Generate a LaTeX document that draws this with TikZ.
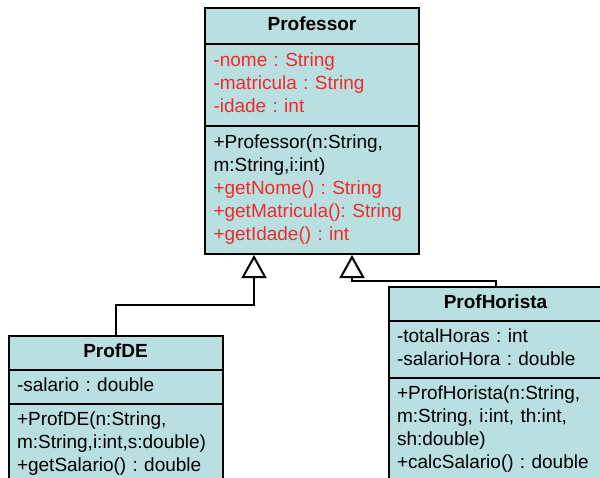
\documentclass[tikz,border=0pt]{standalone}
\usepackage{fontspec}
\setmainfont{Liberation Sans}
\usepackage{tikz}
\usetikzlibrary{positioning, shapes.multipart, arrows.meta}
\definecolor{umlfill}{HTML}{B9DFE1}
\definecolor{umlred}{HTML}{F22A2A}
\newcommand{\classname}[1]{\makebox[\linewidth][c]{\bfseries\strut #1}}
\tikzset{
	umlclass/.style={rectangle split, rectangle split parts=3, draw=black, line width=2pt,
			fill=umlfill, text width=197pt, align=left, inner xsep=8.5pt, inner ysep=5.5pt,
			anchor=north, font=\fontsize{19}{23}\selectfont\frenchspacing}
}
\tikzset{
	inherit/.style={draw=black, line width=2pt, -{Triangle[open, length=23pt, width=25pt]}}
}
\begin{document}
\begin{tikzpicture}[x=1pt, y=-1pt]
\useasboundingbox (0,0) rectangle (600,477);
\clip (0,0) rectangle (600,477);

\node[umlclass] (Professor) at (312,7) {%
	\classname{Professor}
	\nodepart{two}\color{umlred}\strut-nome : String\\
	\strut-matricula : String\\
	\strut-idade : int\strut
	\nodepart{three}\strut+Professor(n:String,\\
	\strut m:String,i:int)\\
	{\color{umlred}\strut+getNome() : String}\\
	{\color{umlred}\strut+getMatricula(): String}\\
	{\color{umlred}\strut+getIdade() : int}\strut};

\node[umlclass, inner ysep=4.5pt] (ProfDE) at (115.5,335) {%
	\classname{ProfDE}
	\nodepart{two}\strut-salario : double
	\nodepart{three}\strut+ProfDE(n:String,\\
	\strut m:String,i:int,s:double)\\
	\strut+getSalario() : double\strut};

\node[umlclass, inner ysep=4.5pt] (ProfHorista) at (495.5,286) {%
	\classname{ProfHorista}
	\nodepart{two}\strut-totalHoras : int\\
	\strut-salarioHora : double\strut
	\nodepart{three}\strut+ProfHorista(n:String,\\
	\strut m:String, i:int, th:int,\\
	\strut sh:double)\\
	\strut+calcSalario() : double\strut};

\coordinate (hookA) at (254,305);
\coordinate (hookB) at (352,281);

\draw[inherit] (ProfDE.north) |- (hookA) -- (hookA |- Professor.south);
\draw[inherit] (ProfHorista.north) |- (hookB) -- (hookB |- Professor.south);

\end{tikzpicture}
\end{document}
